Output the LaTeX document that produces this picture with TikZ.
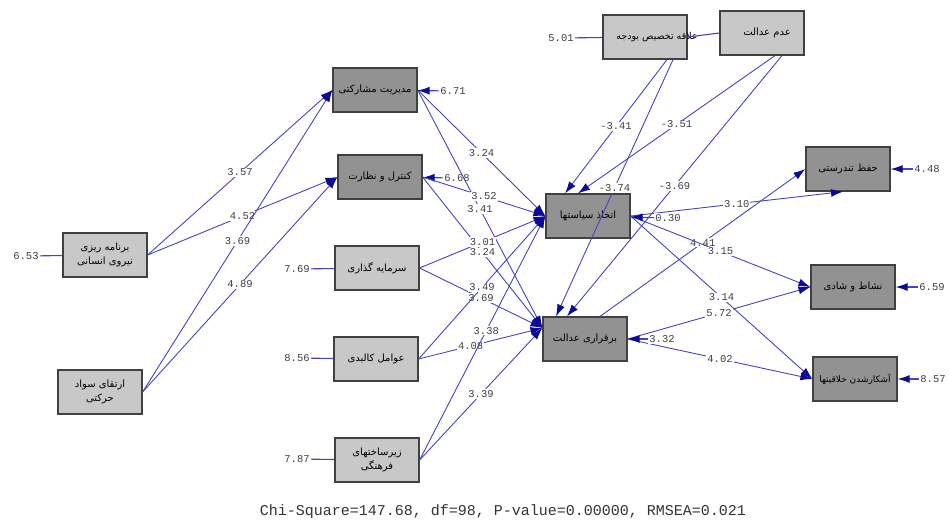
\documentclass[tikz,border=0pt]{standalone}
\usepackage{fontspec}
\usepackage{tikz}
\usetikzlibrary{arrows.meta}
\TeXXeTstate=1
\newfontfamily\farsi[Script=Arabic]{DejaVu Sans}
\newfontfamily\numfont{Liberation Mono}
\newcommand{\fa}[1]{{\farsi\beginR #1\endR}}
\definecolor{lineblue}{RGB}{68,68,196}
\definecolor{tipblue}{RGB}{10,10,150}
\definecolor{exofill}{RGB}{200,200,200}
\definecolor{endofill}{RGB}{146,146,146}

\begin{document}
\begin{tikzpicture}[x=1pt,y=-1pt,>={Latex[length=12pt,width=8pt,color=tipblue]}]
        \tikzstyle{exo}=[rectangle,draw=black!75,line width=1.2pt,fill=exofill,minimum width=84pt,minimum height=44pt,align=center,font=\fontsize{10}{14}\selectfont]
        \tikzstyle{endo}=[exo,fill=endofill]
        \tikzstyle{tval}=[fill=white,inner sep=1pt,text=black!75,font=\numfont\fontsize{10.5}{12}\selectfont]
        \tikzstyle{link}=[draw=lineblue,line width=0.9pt,->]
        \tikzstyle{err}=[draw=lineblue,line width=1.1pt]
        \useasboundingbox (0,0) rectangle (949,523);
        % exogenous variables
        \node [exo] (A1) at (105,255) {\fa{برنامه ریزی}\\\fa{نیروی انسانی}};
        \node [exo] (A2) at (100,392) {\fa{ارتقای سواد}\\\fa{حرکتی}};
        \node [exo] (X1) at (377,268) {\fa{سرمایه گذاری}};
        \node [exo] (X2) at (376,359) {\fa{عوامل کالبدی}};
        \node [exo] (X3) at (377,460) {\fa{زیرساختهای}\\\fa{فرهنگی}};
        \node [exo] (B1) at (645,37) {\makebox[0pt]{\hspace{24pt}\fontsize{9.5}{12}\selectfont\fa{علاقه تخصیص بودجه}}};
        \node [exo] (B2) at (762,33) {\hspace{10pt}\fa{عدم عدالت}};
        % endogenous variables
        \node [endo] (M1) at (375,90) {\fa{مدیریت مشارکتی}};
        \node [endo] (M2) at (380,177) {\fa{کنترل و نظارت}};
        \node [endo] (D1) at (588,216) {\fa{اتخاذ سیاستها}};
        \node [endo] (D2) at (585,339) {\fa{برقراری عدالت}};
        \node [endo] (Y1) at (848,169) {\fa{حفظ تندرستی}};
        \node [endo] (Y2) at (853,287) {\fa{نشاط و شادی}};
        \node [endo] (Y3) at (855,379) {\makebox[0pt]{\fontsize{9}{12}\selectfont\fa{آشکارشدن خلاقیتها}}};
        % error terms
        \node [tval] (eA1) at (26,256) {6.53};
        \node [tval] (eX1) at (297,269) {7.69};
        \node [tval] (eX2) at (297,358) {8.56};
        \node [tval] (eX3) at (297,459) {7.87};
        \node [tval] (eB1) at (561,38) {5.01};
        \node [tval] (eM1) at (453,91) {6.71};
        \node [tval] (eM2) at (457,178) {6.68};
        \node [tval] (eY1) at (927,169) {4.48};
        \node [tval] (eY2) at (932,287) {6.59};
        \node [tval] (eY3) at (933,379) {8.57};
        \draw [err] (eA1) -- (A1);
        \draw [err] (eX1) -- (X1);
        \draw [err] (eX2) -- (X2);
        \draw [err] (eX3) -- (X3);
        \draw [err] (eB1) -- (B1);
        \draw [err] (B1.east) -- (B2.west);
        \draw [err,->] (eM1) -- (M1);
        \draw [err,->] (eM2) -- (M2);
        \draw [err,->] (eY1) -- (Y1);
        \draw [err,->] (eY2) -- (Y2);
        \draw [err,->] (eY3) -- (Y3);
        % paths to mediators
        \path (A1.east) edge [link] node [tval] {3.57} (M1.west)
              (A1.east) edge [link] node [tval] {4.52} (M2.west)
              (A2.east) edge [link] node [tval] {3.69} (M1.west)
              (A2.east) edge [link] node [tval] {4.89} (M2.west);
        \path (M1.east) edge [link] node [tval] {3.24} (D1.west)
              (M1.east) edge [link] node [tval] {3.41} ([yshift=11pt]D2.west)
              (M2.east) edge [link] node [tval] {3.52} (D1.west)
              (M2.east) edge [link] node [tval] {3.24} ([yshift=11pt]D2.west)
              (X1.east) edge [link] node [tval] {3.01} (D1.west)
              (X1.east) edge [link] node [tval] {3.69} ([yshift=11pt]D2.west)
              (X2.east) edge [link] node [tval] {3.49} (D1.west)
              (X2.east) edge [link] node [tval,pos=0.42] {4.08} ([yshift=11pt]D2.west)
              (X3.east) edge [link] node [tval,pos=0.53] {3.38} (D1.west)
              (X3.east) edge [link] node [tval] {3.39} ([yshift=11pt]D2.west);
        \path ([xshift=22pt]B1.south) edge [link] node [tval] {-3.41} ([xshift=-23pt]D1.north)
              ([xshift=28pt]B1.south) edge [link] node [tval] {-3.74} ([xshift=-29pt]D2.north)
              ([xshift=13pt]B2.south) edge [link] node [tval] {-3.51} ([xshift=-10pt]D1.north)
              ([xshift=20pt]B2.south) edge [link] node [tval] {-3.69} ([xshift=-18pt]D2.north);
        % paths to outcomes
        \path (D1.east) edge [link] node [tval] {3.10} ([xshift=-5pt]Y1.south)
              ([xshift=15pt]D2.north) edge [link] node [tval] {4.41} (Y1.west)
              (D1.east) edge [link] node [tval] {3.15} (Y2.west)
              (D1.east) edge [link] node [tval] {3.14} (Y3.west)
              (D2.east) edge [link] node [tval] {5.72} (Y2.west)
              (D2.east) edge [link] node [tval] {4.02} (Y3.west);
        \node [tval] (eD1) at (668,218) {0.30};
        \node [tval] (eD2) at (662,339) {3.32};
        \draw [err,->] (eD1) -- (D1);
        \draw [err,->] (eD2) -- (D2);
        % fit statistics
        \node [text=black!80,font=\numfont\fontsize{15}{17}\selectfont] (fit) at (503,512) {Chi-Square=147.68, df=98, P-value=0.00000, RMSEA=0.021};
\end{tikzpicture}
\end{document}
